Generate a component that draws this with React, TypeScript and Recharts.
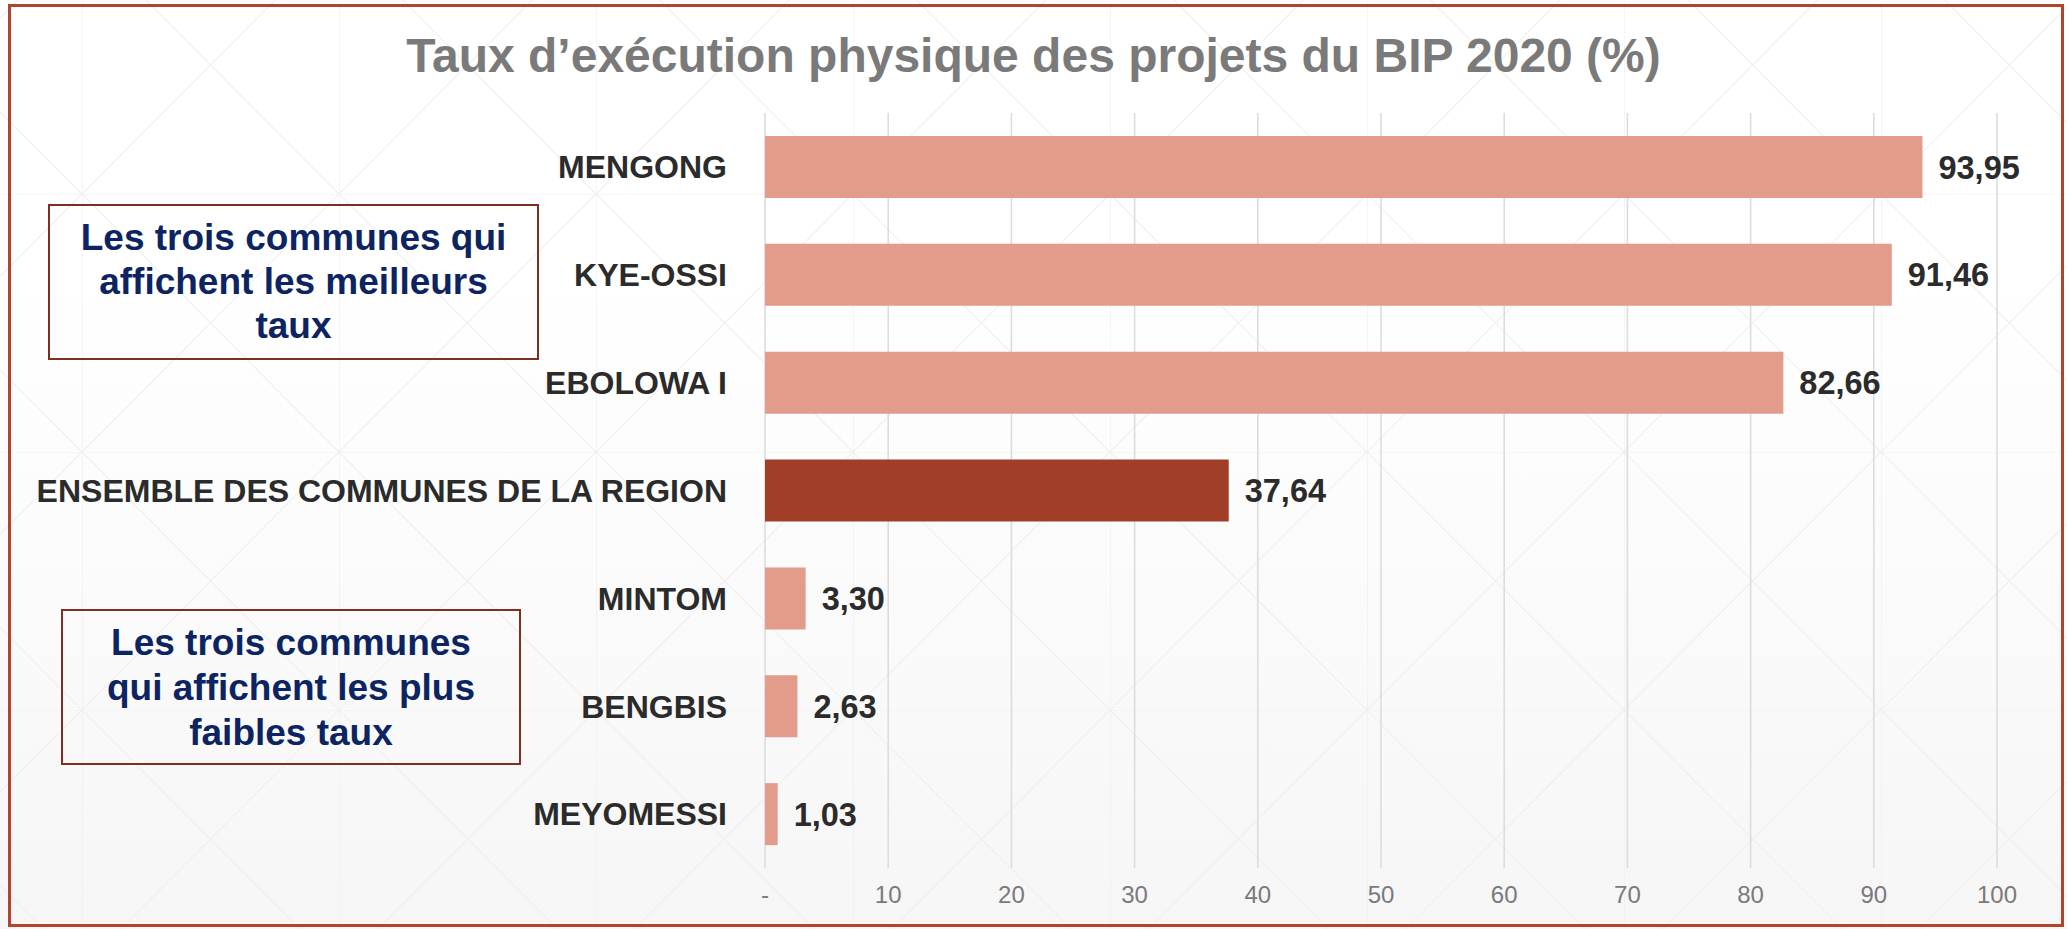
import React from "react";
import { BarChart, Bar, XAxis, YAxis, CartesianGrid, Cell, LabelList } from "recharts";

const communes = [
  "MENGONG",
  "KYE-OSSI",
  "EBOLOWA I",
  "ENSEMBLE DES COMMUNES DE LA REGION",
  "MINTOM",
  "BENGBIS",
  "MEYOMESSI",
];
const taux = [93.95, 91.46, 82.66, 37.64, 3.3, 2.63, 1.03];
const xTicks = [0, 10, 20, 30, 40, 50, 60, 70, 80, 90, 100];
const highlighted = "ENSEMBLE DES COMMUNES DE LA REGION";

const bestBox = ["Les trois communes qui", "affichent les meilleurs", "taux"];
const worstBox = ["Les trois communes", "qui affichent les plus", "faibles taux"];

const FONT = '"Liberation Sans", Arial, Helvetica, sans-serif';
const W = 2067;
const H = 929;

const data = communes.map((name, i) => ({ name, value: taux[i] }));

const fmt = (v: any) => Number(v).toFixed(2).replace(".", ",");

function NoteBox({ lines, left, top, width, height, fontSize, lineHeight }: any) {
  return (
    <div
      style={{
        position: "absolute",
        left,
        top,
        width,
        height,
        boxSizing: "border-box",
        border: "2px solid #7d2f22",
        display: "flex",
        flexDirection: "column",
        justifyContent: "center",
        alignItems: "center",
        textAlign: "center",
        color: "#0c2461",
        fontFamily: FONT,
        fontWeight: 700,
        fontSize,
        lineHeight: `${lineHeight}px`,
      }}
    >
      {lines.map((l: string) => (
        <span key={l} style={{ display: "block", whiteSpace: "nowrap" }}>
          {l}
        </span>
      ))}
    </div>
  );
}

export default function App() {
  return (
    <div
      style={{
        position: "absolute",
        left: 0,
        top: 0,
        width: W,
        height: H,
        overflow: "hidden",
        background: "linear-gradient(to bottom, #ffffff 0%, #ffffff 30%, #f6f6f6 100%)",
        fontFamily: FONT,
      }}
    >
      {/* faint background lattice */}
      <svg width={W} height={H} style={{ position: "absolute", left: 0, top: 0 }}>
        <defs>
          <pattern id="lattice" x={82} y={194} width={257} height={258} patternUnits="userSpaceOnUse">
            <path
              d="M0 0 L257 0 M0 0 L0 258 M0 0 L257 258 M257 0 L0 258"
              stroke="#efefef"
              strokeWidth={1.2}
              fill="none"
            />
          </pattern>
        </defs>
        <rect width={W} height={H} fill="url(#lattice)" />
      </svg>

      <div style={{ position: "absolute", left: 0, top: 0 }}>
        <BarChart
          width={W}
          height={H}
          data={data}
          layout="vertical"
          margin={{ top: 113, right: 70, bottom: 0, left: 0 }}
          barSize={62}
        >
          <CartesianGrid horizontal={false} stroke="#dcdcdc" strokeWidth={1.6} />
          <XAxis
            type="number"
            domain={[0, 100]}
            ticks={xTicks}
            tickFormatter={(v) => (v === 0 ? "-" : String(v))}
            height={61}
            axisLine={false}
            tickLine={false}
            tickSize={0}
            tickMargin={18}
            tick={{ fill: "#7a7a7a", fontSize: 24, fontFamily: FONT }}
          />
          <YAxis
            type="category"
            dataKey="name"
            width={765}
            axisLine={false}
            tickLine={false}
            tickSize={0}
            tickMargin={38}
            interval={0}
            tick={{ fill: "#2b2b2b", fontSize: 32, fontWeight: 700, fontFamily: FONT }}
          />
          <Bar dataKey="value" isAnimationActive={false}>
            {data.map((d) => (
              <Cell key={d.name} fill={d.name === highlighted ? "#a13e27" : "#e39b8b"} />
            ))}
            <LabelList
              dataKey="value"
              position="right"
              offset={16}
              formatter={fmt}
              style={{ fill: "#2b2b2b", fontSize: 32.5, fontWeight: 700, fontFamily: FONT }}
            />
          </Bar>
        </BarChart>
      </div>

      <div
        style={{
          position: "absolute",
          left: 0,
          top: 32,
          width: W,
          textAlign: "center",
          color: "#7a7a7a",
          fontWeight: 700,
          fontSize: 48,
          lineHeight: "48px",
          whiteSpace: "nowrap",
        }}
      >
        Taux d’exécution physique des projets du BIP 2020 (%)
      </div>

      <NoteBox lines={bestBox} left={48} top={204} width={491} height={156} fontSize={37} lineHeight={44} />
      <NoteBox lines={worstBox} left={61} top={609} width={460} height={156} fontSize={37} lineHeight={45} />

      <div
        style={{
          position: "absolute",
          left: 8,
          top: 4,
          width: 2056,
          height: 923,
          boxSizing: "border-box",
          border: "3px solid #b0452c",
        }}
      />
    </div>
  );
}
